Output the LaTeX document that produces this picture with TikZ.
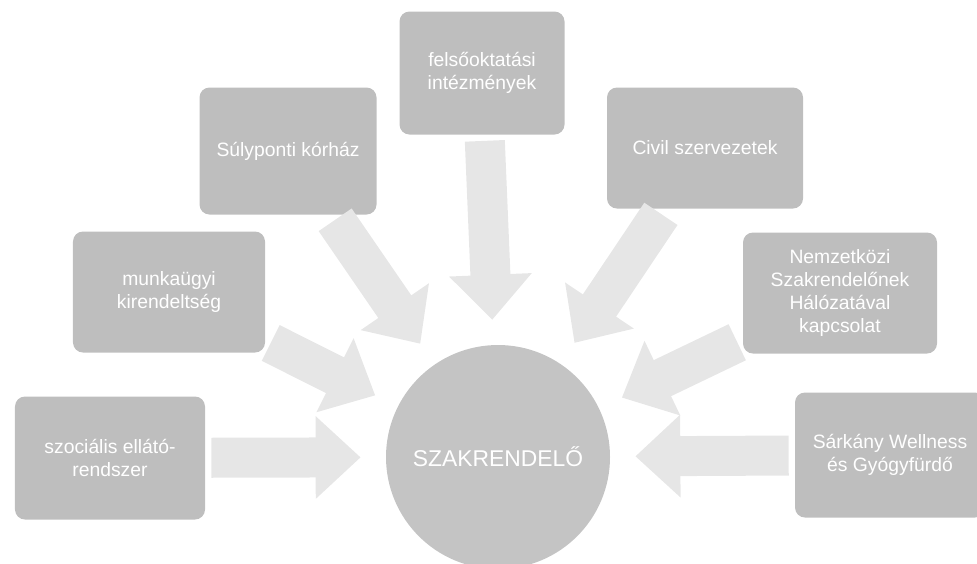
\documentclass[tikz,border=0pt]{standalone}
\usepackage{fontspec}
\setmainfont{Liberation Sans}
\usetikzlibrary{arrows.meta}
\definecolor{boxgray}{RGB}{190,190,190}
\definecolor{hubgray}{RGB}{196,196,196}
\definecolor{arrowgray}{RGB}{230,230,230}

\begin{document}
\begin{tikzpicture}[x=0.2mm,y=-0.2mm,
		partner/.style={fill=boxgray,rounded corners=2mm,text=white,align=center,
			font=\fontsize{11}{13}\selectfont,inner sep=0pt},
		hub/.style={circle,fill=hubgray,text=white,minimum size=44.8mm,
			font=\fontsize{13}{15}\selectfont},
		fatarrow/.style={draw=arrowgray,line width=8mm,
			-{Triangle[length=9mm,width=16mm]},shorten <=1.2mm,shorten >=5mm}]
			\useasboundingbox (0,0) rectangle (977,563);
			% centre
			\node[hub] (hub) at (498,457) {SZAKRENDEL\H{O}};
			% partners
			\node[partner,minimum width=33mm,minimum height=24.6mm] (felso) at (482,73) {felsőoktatási\\intézmények};
			\node[partner,minimum width=35.4mm,minimum height=25.4mm] (sulyp) at (288,151) {Súlyponti kórház};
			\node[partner,minimum width=39.2mm,minimum height=24.2mm] (civil) at (705,148) {Civil szervezetek};
			\node[partner,minimum width=38.4mm,minimum height=24.2mm] (munka) at (169,292) {munkaügyi\\kirendeltség};
			\node[partner,minimum width=38.8mm,minimum height=24.2mm] (nemz) at (840,293) {Nemzetközi\\Szakrendelőnek\\Hálózatával\\kapcsolat};
			\node[partner,minimum width=38mm,minimum height=24.6mm] (szoc) at (110,458) {szociális ellátó-\\rendszer};
			\node[partner,minimum width=38mm,minimum height=25mm] (sarkany) at (890,455) {Sárkány Wellness\\és Gyógyfürdő};
			% arrows
			\draw[fatarrow] (felso) -- (hub);
			\draw[fatarrow] (sulyp) -- (hub);
			\draw[fatarrow] (civil) -- (hub);
			\draw[fatarrow] (munka) -- (hub);
			\draw[fatarrow] (nemz) -- (hub);
			\draw[fatarrow] (szoc) -- (hub);
			\draw[fatarrow] (sarkany) -- (hub);
		\end{tikzpicture}
\end{document}
